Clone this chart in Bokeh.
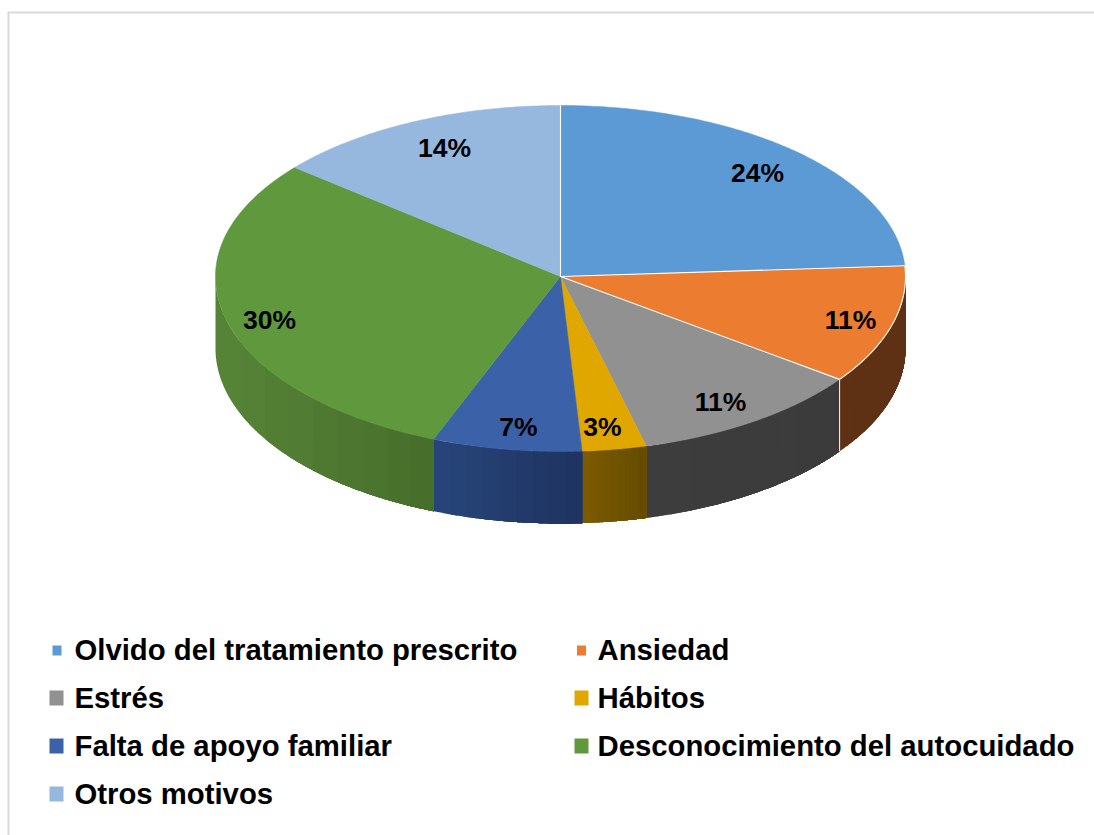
import numpy as np
from bokeh.plotting import figure
from bokeh.embed import file_html
from bokeh.resources import INLINE
from bokeh.core.properties import value

categories = ["Olvido del tratamiento prescrito", "Ansiedad", "Estrés", "Hábitos",
              "Falta de apoyo familiar", "Desconocimiento del autocuidado", "Otros motivos"]
shares = [24, 11, 11, 3, 7, 30, 14]
top_colors = ["#5b9ad5", "#eb7c30", "#919191", "#dfa700", "#3b62a8", "#5f983d", "#96b8de"]
side_left = ["#37618a", "#5f3114", "#3d3d3d", "#7d5c00", "#27457a", "#578538", "#5b7a9c"]
side_right = ["#37618a", "#5f3114", "#3b3b3b", "#634b00", "#1f335f", "#466d2a", "#5b7a9c"]
white_radii = [0, 1, 2]   # slice boundaries drawn with a white seam
white_arcs = [1]          # slices whose outer rim is white

label_x = [757, 850, 720, 602, 518, 269, 444]
label_y = [172, 319, 401, 426, 426, 319, 147]

legend_x = [74, 597, 74, 597, 74, 597, 74]
legend_y = [649, 649, 697, 697, 745, 745, 793]
marker_x = [56.5, 581, 56, 581, 56, 581, 56]
marker_y = [650, 650, 697.5, 697.5, 745.5, 745.5, 793.5]
marker_w = [9, 9, 14, 14, 14, 14, 14]
marker_h = [10, 10, 15, 15, 15, 15, 15]

CX, CY, RX, RY_BACK, RY_FRONT, DEPTH = 560, 276, 345, 171, 175, 72
W, H = 1094, 835


def ex(t):
    return CX + RX * np.sin(t)


def ey(t):
    c = np.cos(t)
    return CY - np.where(c >= 0, RY_BACK, RY_FRONT) * c


def mix(a, b, f):
    ca = [int(a[i:i + 2], 16) for i in (1, 3, 5)]
    cb = [int(b[i:i + 2], 16) for i in (1, 3, 5)]
    return "#%02x%02x%02x" % tuple(round(u + (v - u) * f) for u, v in zip(ca, cb))


p = figure(width=W, height=H, x_range=(0, W), y_range=(H, 0),
           output_backend="svg", toolbar_location=None, min_border=0,
           outline_line_color=None, background_fill_color="white")
p.xaxis.visible = False
p.yaxis.visible = False
p.grid.visible = False

# frame of the chart area
p.line([8, 8], [12, H], line_color="#d9d9d9", line_width=2)
p.line([7, W], [12, 12], line_color="#d9d9d9", line_width=2)

edges = np.cumsum([0] + shares) / sum(shares) * 2 * np.pi

# side wall: each band runs on to the slice's end, so later bands paint over it without seams
xs_s, ys_s, cs_s = [], [], []
for i in range(len(shares)):
    a, b = max(edges[i], np.pi / 2), min(edges[i + 1], 3 * np.pi / 2)
    if b <= a:
        continue
    hi, lo = (a, b) if ex(a) > ex(b) else (b, a)  # hi is the right end
    for f in np.linspace(0, 1, 10)[:-1]:
        # band starts at fraction f of the x span, measured from the left
        x_start = ex(lo) + (ex(hi) - ex(lo)) * f
        tt = np.linspace(a, b, 100)
        keep = ex(tt) >= x_start
        sx, sy = ex(tt)[keep], ey(tt)[keep]
        if len(sx) < 2:
            continue
        xs_s.append(list(sx) + list(sx[::-1]))
        ys_s.append(list(sy) + list((sy + DEPTH)[::-1]))
        cs_s.append(mix(side_left[i], side_right[i], f + 0.05))
p.patches(xs_s, ys_s, fill_color=cs_s, line_color=None)

# white seam between the orange and grey walls
t_seam = edges[2]
p.line([ex(t_seam)] * 2, [float(ey(t_seam)), float(ey(t_seam)) + DEPTH], line_color="white", line_width=1)

# top surface
xs_t, ys_t = [], []
for i in range(len(shares)):
    tt = np.linspace(edges[i], edges[i + 1], 120)
    xs_t.append([CX] + list(ex(tt)))
    ys_t.append([CY] + list(ey(tt)))
p.patches(xs_t, ys_t, fill_color=top_colors, line_color=top_colors, line_width=0.5)
for k in white_radii:
    p.line([CX, float(ex(edges[k]))], [CY, float(ey(edges[k]))], line_color="white", line_width=1.1)
for i in white_arcs:
    p.line(xs_t[i][1:], ys_t[i][1:], line_color="white", line_width=1.1)

p.text(label_x, label_y, text=[f"{v}%" for v in shares], text_font=value("Liberation Sans"),
       text_font_style="bold", text_font_size="26.5px", text_color="black",
       text_align="center", text_baseline="middle")

# legend
p.rect(marker_x, marker_y, width=marker_w, height=marker_h, fill_color=top_colors, line_color=None)
p.text(legend_x, legend_y, text=categories, text_font=value("Liberation Sans"),
       text_font_style="bold", text_font_size="29.3px", text_color="black",
       text_align="left", text_baseline="middle")

open("out.html", "w").write(file_html(p, INLINE))
